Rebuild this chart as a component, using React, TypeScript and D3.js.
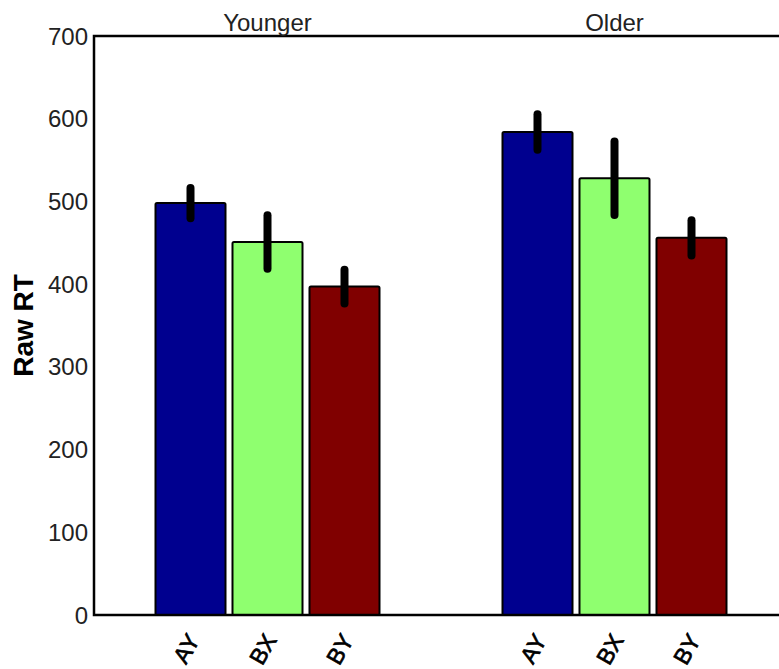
import React from 'react';
import * as d3 from 'd3';

const groups = ['Younger', 'Older'];
const conditions = ['AY', 'BX', 'BY'];
// mean RT per group, in condition order
const younger = [498, 451, 397];
const older = [584, 528, 456];
// error bar half-widths
const youngerErr = [22, 36, 24];
const olderErr = [25, 48, 25];
const yTicks = [0, 100, 200, 300, 400, 500, 600, 700];

const colors = ['#00008f', '#8fff6f', '#800000'];

const W = 779;
const H = 669;
const left = 94;
const top = 36;
const bottom = 615;

export default function App() {
  const y = d3.scaleLinear().domain([0, 700]).range([bottom, top]);
  const gx = d3.scalePoint<string>().domain(groups).range([267.5, 614.5]);
  const cx = d3.scaleBand<string>().domain(conditions).range([-112, 112]).paddingInner(0.0909);

  const data = groups.flatMap((g, gi) =>
    conditions.map((c, ci) => ({
      group: g,
      cond: c,
      value: gi === 0 ? younger[ci] : older[ci],
      err: gi === 0 ? youngerErr[ci] : olderErr[ci],
      color: colors[ci],
    }))
  );

  const font = '"Liberation Sans", Arial, sans-serif';

  return (
    <svg width={W} height={H} style={{ position: 'absolute', left: 0, top: 0, background: '#fff' }} fontFamily={font}>
      {/* bars */}
      {data.map((d, i) => {
        const x0 = (gx(d.group) as number) + (cx(d.cond) as number);
        return (
          <rect
            key={'b' + i}
            x={x0}
            y={y(d.value)}
            width={cx.bandwidth()}
            height={y(0) - y(d.value)}
            fill={d.color}
            stroke="#000"
            strokeWidth={2}
            rx={1.5}
          />
        );
      })}
      {/* error bars */}
      {data.map((d, i) => {
        const xc = (gx(d.group) as number) + (cx(d.cond) as number) + cx.bandwidth() / 2;
        return (
          <line
            key={'e' + i}
            x1={xc}
            x2={xc}
            y1={y(d.value + d.err) + 3}
            y2={y(d.value - d.err) - 3}
            stroke="#000"
            strokeWidth={8}
            strokeLinecap="round"
          />
        );
      })}
      {/* axes frame */}
      <path
        d={`M${W + 20},${top} H${left} V${bottom} H${W + 20}`}
        fill="none"
        stroke="#000"
        strokeWidth={2.5}
      />
      {/* y tick labels */}
      {yTicks.map((t) => (
        <text key={t} x={left - 6} y={y(t)} dy="0.36em" textAnchor="end" fontSize={24} fill="#222">
          {t}
        </text>
      ))}
      {/* y axis label */}
      <text
        transform={`translate(33,${(top + bottom) / 2}) rotate(-90)`}
        textAnchor="middle"
        fontSize={28}
        fontWeight="bold"
        fill="#000"
      >
        Raw RT
      </text>
      {/* group titles */}
      {groups.map((g) => (
        <text key={g} x={gx(g)} y={top - 5} textAnchor="middle" fontSize={24} fill="#222">
          {g}
        </text>
      ))}
      {/* condition labels */}
      {data.map((d, i) => {
        const xc = (gx(d.group) as number) + (cx(d.cond) as number) + cx.bandwidth() / 2;
        return (
          <text
            key={'l' + i}
            transform={`translate(${xc + 3},${bottom + 21}) rotate(-60)`}
            dy="0.35em"
            textAnchor="end"
            fontSize={23}
            fill="#000"
            stroke="#000"
            strokeWidth={0.7}
          >
            {d.cond}
          </text>
        );
      })}
    </svg>
  );
}
